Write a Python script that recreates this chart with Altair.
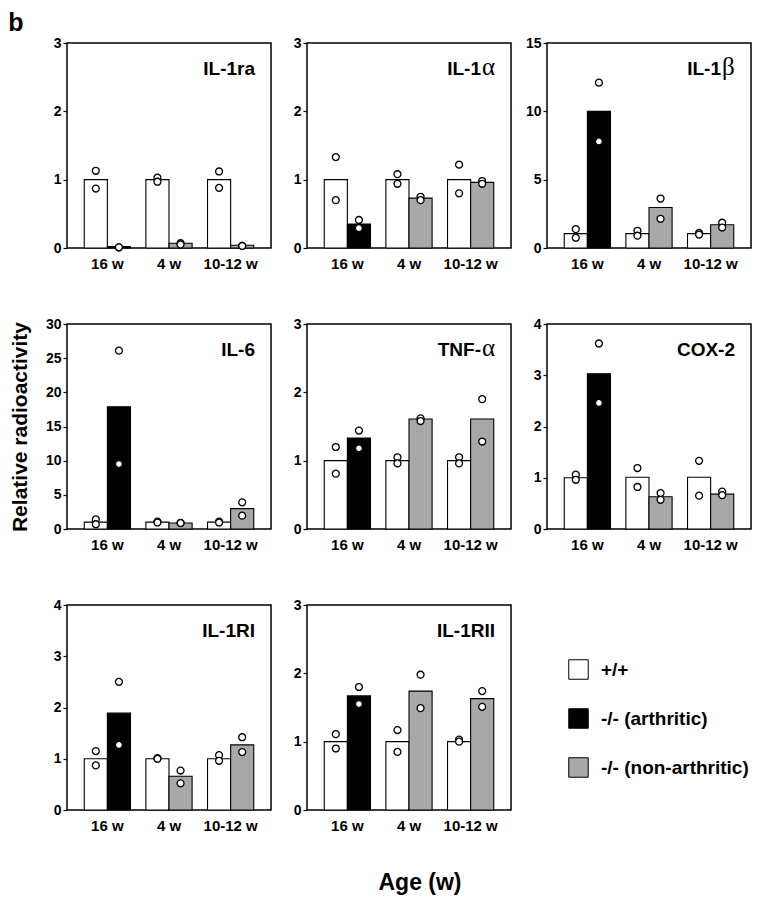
import altair as alt
import pandas as pd

FONT = "Liberation Sans"

ages = ["16 w", "4 w", "10-12 w"]
genotypes = ["+/+", "-/- (arthritic)", "-/- (non-arthritic)"]
fills = ["#ffffff", "#000000", "#a8a8a8"]
slots = ["wt", "ko"]
# genotype index of each bar: wt16, ko16, wt4, ko4, wt10-12, ko10-12
bar_geno = [0, 1, 0, 2, 0, 2]

names = ["IL-1ra", "IL-1", "IL-1", "IL-6", "TNF-", "COX-2", "IL-1RI", "IL-1RII"]
greek = ["", "α", "β", "", "α", "", "", ""]
y_max = [3, 3, 15, 30, 3, 4, 4, 3]
y_step = [1, 1, 5, 5, 1, 1, 1, 1]

# bar heights (mean): wt16, ko16, wt4, ko4, wt10-12, ko10-12
bars_il1ra = [1.0, 0.02, 1.0, 0.07, 1.0, 0.04]
bars_il1a = [1.0, 0.35, 1.0, 0.73, 1.0, 0.96]
bars_il1b = [1.05, 10.0, 1.05, 2.96, 1.05, 1.70]
bars_il6 = [1.0, 17.9, 1.0, 0.88, 1.0, 2.98]
bars_tnfa = [1.0, 1.33, 1.0, 1.61, 1.0, 1.61]
bars_cox2 = [1.0, 3.03, 1.01, 0.63, 1.01, 0.68]
bars_il1ri = [1.0, 1.89, 1.0, 0.66, 1.0, 1.27]
bars_il1rii = [1.0, 1.67, 1.0, 1.74, 1.0, 1.63]

# individual animals, same order
pts_il1ra = [[1.13, 0.87], [0.01, 0.01], [1.03, 0.97], [0.07, 0.05], [1.12, 0.88], [0.03, 0.03]]
pts_il1a = [[1.33, 0.70], [0.41, 0.29], [1.08, 0.94], [0.75, 0.70], [1.22, 0.80], [0.98, 0.94]]
pts_il1b = [[1.38, 0.75], [12.1, 7.8], [1.26, 0.90], [3.62, 2.14], [1.10, 0.98], [1.85, 1.50]]
pts_il6 = [[1.40, 0.70], [26.1, 9.5], [1.07, 0.95], [0.90, 0.86], [1.07, 0.95], [3.90, 1.95]]
pts_tnfa = [[1.20, 0.81], [1.44, 1.18], [1.05, 0.96], [1.62, 1.58], [1.05, 0.96], [1.90, 1.28]]
pts_cox2 = [[1.06, 0.96], [3.62, 2.46], [1.19, 0.82], [0.70, 0.57], [1.33, 0.65], [0.73, 0.66]]
pts_il1ri = [[1.15, 0.87], [2.50, 1.27], [1.01, 1.00], [0.77, 0.52], [1.07, 0.96], [1.42, 1.13]]
pts_il1rii = [[1.11, 0.90], [1.80, 1.55], [1.17, 0.85], [1.98, 1.49], [1.03, 1.00], [1.74, 1.51]]

bar_lists = [bars_il1ra, bars_il1a, bars_il1b, bars_il6, bars_tnfa, bars_cox2, bars_il1ri, bars_il1rii]
pt_lists = [pts_il1ra, pts_il1a, pts_il1b, pts_il6, pts_tnfa, pts_cox2, pts_il1ri, pts_il1rii]

W, H = 204, 205

legend = alt.Legend(
    title=None, orient="none", legendX=501, legendY=616,
    symbolType="square", symbolSize=380, symbolStrokeColor="black",
    symbolStrokeWidth=1, symbolOpacity=1, labelFont=FONT, labelFontSize=19,
    labelFontWeight="bold", labelColor="black", labelOffset=12, rowPadding=24,
    padding=0, direction="vertical",
)


def make_panel(k):
    brow, prow = [], []
    for j in range(6):
        brow.append(dict(age=ages[j // 2], slot=slots[j % 2],
                         geno=genotypes[bar_geno[j]], value=bar_lists[k][j]))
        for v in pt_lists[k][j]:
            prow.append(dict(age=ages[j // 2], slot=slots[j % 2], value=v))
    bdf = pd.DataFrame(brow)
    pdf = pd.DataFrame(prow)

    ticks = list(range(0, y_max[k] + 1, y_step[k]))
    common = dict(values=ticks, grid=False, domain=False, tickSize=4, tickColor="black",
                  tickWidth=1.2, labelFont=FONT, labelFontSize=14, labelFontWeight="bold",
                  labelColor="black", labelPadding=2, minExtent=22, maxExtent=22)
    if k == 3:
        yaxis = alt.Axis(**common, title="Relative radioactivity", titleFont=FONT,
                         titleFontSize=21, titleFontWeight="bold", titleColor="black",
                         titlePadding=15)
    else:
        yaxis = alt.Axis(**common, title=None)
    xaxis = alt.Axis(title=None, labelAngle=0, ticks=False, tickSize=0, domain=False,
                     labelFont=FONT, labelFontSize=15, labelFontWeight="bold",
                     labelColor="black", labelPadding=8, minExtent=24, maxExtent=24)

    x = alt.X("age:N", sort=ages, scale=alt.Scale(paddingInner=0.25, paddingOuter=0.28), axis=xaxis)
    xo = alt.XOffset("slot:N", sort=slots, scale=alt.Scale(paddingInner=0, paddingOuter=0))
    y = alt.Y("value:Q", scale=alt.Scale(domain=[0, y_max[k]], nice=False, zero=True), axis=yaxis)

    bars = alt.Chart(bdf).mark_bar(stroke="black", strokeWidth=1.1).encode(
        x=x, xOffset=xo, y=y,
        color=alt.Color("geno:N", scale=alt.Scale(domain=genotypes, range=fills), legend=legend),
    )
    dots = alt.Chart(pdf).mark_circle(fill="white", stroke="black", strokeWidth=1.3,
                                      size=48, opacity=1).encode(x=x, xOffset=xo, y=y)

    layers = [bars, dots]
    lab = pd.DataFrame({"t": [names[k]], "g": [greek[k]]})
    if greek[k]:
        main = alt.Chart(lab).mark_text(align="right", baseline="alphabetic", font=FONT,
                                        fontSize=19, fontWeight="bold", color="black").encode(
            text="t:N", x=alt.value(W - 30), y=alt.value(32))
        gr = alt.Chart(lab).mark_text(align="left", baseline="alphabetic", font="Liberation Serif",
                                      fontSize=25, fontWeight="normal", color="black").encode(
            text="g:N", x=alt.value(W - 29), y=alt.value(32))
        layers += [main, gr]
    else:
        main = alt.Chart(lab).mark_text(align="right", baseline="alphabetic", font=FONT,
                                        fontSize=19, fontWeight="bold", color="black").encode(
            text="t:N", x=alt.value(W - 16), y=alt.value(32))
        layers += [main]
    return alt.layer(*layers).properties(width=W, height=H)


panels = [make_panel(k) for k in range(8)]

grid = alt.concat(*panels, columns=3, spacing={"row": 43, "column": 12}).properties(
    title=alt.TitleParams("Age (w)", orient="bottom", anchor="middle", font=FONT, fontSize=23,
                          fontWeight="bold", color="black", offset=37, dx=40)
)

chart = alt.vconcat(grid).properties(
    title=alt.TitleParams("b", anchor="start", font=FONT, fontSize=25, fontWeight="bold",
                          color="black", offset=-1),
    padding={"top": 3, "left": 0, "right": 0, "bottom": 0},
).configure_view(stroke="black", strokeWidth=1.5).configure_concat(spacing=0)

chart.save("out.html", embed_options={"renderer": "svg", "actions": False})
